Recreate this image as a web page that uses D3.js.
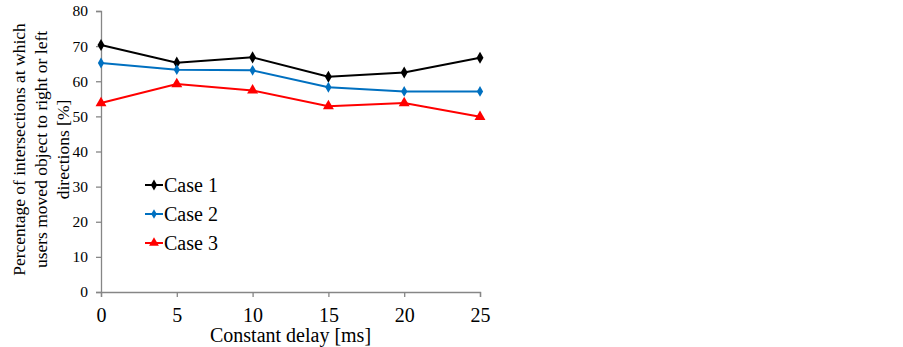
<!DOCTYPE html>
<html>
<head>
<meta charset="utf-8">
<script src="https://cdn.jsdelivr.net/npm/d3@7"></script>
<style>
  body { margin: 0; background: #fff; }
  text { font-family: "Liberation Serif", "Times New Roman", serif; fill: #000; }
</style>
</head>
<body>
<div id="chart"></div>
<script>
const delays = [0, 5, 10, 15, 20, 25];
const case1 = [70.3, 65.3, 66.8, 61.3, 62.5, 66.7];
const case2 = [65.2, 63.3, 63.1, 58.3, 57.1, 57.1];
const case3 = [53.8, 59.2, 57.4, 52.9, 53.8, 49.9];
const yTicks = [0, 10, 20, 30, 40, 50, 60, 70, 80];
const seriesNames = ["Case 1", "Case 2", "Case 3"];

const width = 903, height = 347;
const margin = { left: 101, top: 11, right: 423, bottom: 55 };
const serif = "'Liberation Serif', 'Times New Roman', serif";

const svg = d3.select("#chart").append("svg")
    .attr("width", width)
    .attr("height", height);

const x = d3.scaleLinear()
    .domain([0, 25])
    .range([margin.left, width - margin.right]);

const y = d3.scaleLinear()
    .domain([0, 80])
    .range([height - margin.bottom, margin.top]);

const axisColor = "#868686";

// y axis
const yAxis = svg.append("g")
    .attr("transform", "translate(" + margin.left + ",0)")
    .call(d3.axisLeft(y).tickValues(yTicks).tickSize(5).tickPadding(8));
yAxis.attr("font-family", serif);
yAxis.selectAll("text")
    .style("font-family", serif)
    .style("font-size", "15.5px");

// x axis
const xAxis = svg.append("g")
    .attr("transform", "translate(0," + (height - margin.bottom) + ")")
    .call(d3.axisBottom(x).tickValues(delays).tickSize(5).tickPadding(11));
xAxis.attr("font-family", serif);
xAxis.selectAll("text")
    .style("font-family", serif)
    .style("font-size", "20px");

svg.selectAll(".domain, .tick line")
    .attr("stroke", axisColor)
    .attr("stroke-width", 1.3);

// axis titles
svg.append("text")
    .attr("x", (x(0) + x(25)) / 2)
    .attr("y", 342)
    .attr("text-anchor", "middle")
    .style("font-size", "20px")
    .text("Constant delay [ms]");

const yTitle = ["Percentage of intersections at which",
                "users moved object to right or left",
                "directions [%]"];
svg.append("g")
    .attr("transform", "translate(25," + ((y(0) + y(80)) / 2 - 2) + ") rotate(-90)")
  .selectAll("text")
    .data(yTitle)
  .enter().append("text")
    .attr("x", 0)
    .attr("y", (d, i) => i * 22)
    .attr("text-anchor", "middle")
    .style("font-size", "17.5px")
    .text(d => d);

// series
const series = [
    { name: seriesNames[0], values: case1, color: "#000000", symbol: d3.symbolDiamond, size: 42 },
    { name: seriesNames[1], values: case2, color: "#0070C0", symbol: d3.symbolDiamond, size: 34 },
    { name: seriesNames[2], values: case3, color: "#FF0000", symbol: d3.symbolTriangle, size: 52 }
];

const line = d3.line()
    .x((d, i) => x(delays[i]))
    .y(d => y(d));

series.forEach(s => {
    svg.append("path")
        .datum(s.values)
        .attr("fill", "none")
        .attr("stroke", s.color)
        .attr("stroke-width", 2)
        .attr("d", line);

    svg.selectAll(null)
        .data(s.values)
      .enter().append("path")
        .attr("transform", (d, i) => "translate(" + x(delays[i]) + "," + y(d) + ")")
        .attr("d", d3.symbol().type(s.symbol).size(s.size))
        .attr("fill", s.color);
});

// legend
const legend = svg.append("g");
series.forEach((s, i) => {
    const ly = 185 + i * 29;
    legend.append("line")
        .attr("x1", 145).attr("x2", 163)
        .attr("y1", ly).attr("y2", ly)
        .attr("stroke", s.color)
        .attr("stroke-width", 2);
    legend.append("path")
        .attr("transform", "translate(154," + ly + ")")
        .attr("d", d3.symbol().type(s.symbol).size(s.size * 0.8))
        .attr("fill", s.color);
    legend.append("text")
        .attr("x", 164)
        .attr("y", ly + 7)
        .style("font-size", "20px")
        .text(s.name);
});
</script>
</body>
</html>
